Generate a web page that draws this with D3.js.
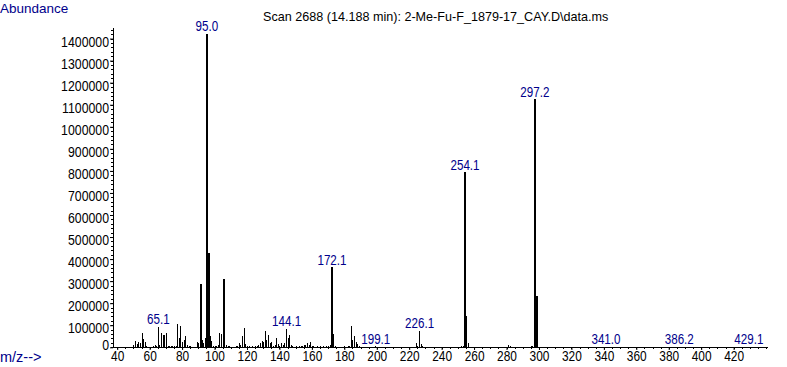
<!DOCTYPE html>
<html><head><meta charset="utf-8">
<script src="https://cdn.jsdelivr.net/npm/d3@7"></script>
<style>
html,body{margin:0;padding:0;background:#fff;}
svg{display:block;font-family:"Liberation Sans",Arial,sans-serif;}
</style></head>
<body>
<svg id="c" width="787" height="367"></svg>
<script>
const title = "Scan 2688 (14.188 min): 2-Me-Fu-F_1879-17_CAY.D\\data.ms";
const yTitle = "Abundance";
const xTitle = "m/z-->";
const mz = [50,51,52,53,54,55,56,57,58,60,62,63,64,65,66,67,68,69,70,71,72,73,74,75,76,77,78,79,80,81,82,83,84,85,87,89,90,91,92,93,94,95,96,97,98,99,100,101,102,103,104,105,106,107,108,109,110,113,114,115,116,117,118,119,120,121,122,123,124,125,126,127,128,129,130,131,132,133,134,135,136,137,138,139,140,141,142,143,144,145,146,147,148,150,152,153,154,155,156,157,158,159,160,161,163,165,167,169,170,171,172,173,174,178,180,182,183,184,185,186,187,188,189,191,195,197,199,203,207,210,213,222,224,225,226,227,228,236,241,252,253,254,255,256,257,269,281,282,283,293,295,296,297,298,299,300,341,386,387,429];
const abundance = [12000,30000,15000,22000,20000,65000,38000,22000,5000,3000,5000,12000,4000,93000,10000,67000,58000,55000,64000,8000,4000,6000,8000,6000,5000,106000,41000,96000,26000,33000,52000,10000,8000,4000,3000,23000,18000,287000,33000,20000,41000,1421000,429000,49000,30000,8000,5000,6000,10000,67000,61000,310000,67000,12000,8000,5000,3000,4000,5000,18000,12000,52000,86000,15000,8000,4000,3000,5000,3000,4000,6000,12000,20000,30000,22000,72000,35000,58000,18000,25000,8000,10000,42000,15000,8000,20000,10000,18000,83000,42000,56000,12000,8000,4000,5000,8000,6000,12000,10000,18000,12000,26000,8000,5000,4000,5000,4000,5000,8000,10000,362000,61000,8000,3000,4000,8000,5000,96000,33000,51000,23000,16000,5000,3000,2000,3000,4000,2000,3000,3000,2000,3000,21000,5000,74000,15000,4000,2000,2000,4000,8000,794000,142000,18000,3000,2000,9000,6000,3000,3000,5000,6000,1126000,234000,29000,3000,2000,3000,2000,2000];
const peakLabels = ["65.1","95.0","144.1","172.1","199.1","226.1","254.1","297.2","341.0","386.2","429.1"];
const xTicks = [40,60,80,100,120,140,160,180,200,220,240,260,280,300,320,340,360,380,400,420];
const yTicks = [0,100000,200000,300000,400000,500000,600000,700000,800000,900000,1000000,1100000,1200000,1300000,1400000];

const svg = d3.select("#c");
const x = d3.scaleLinear().domain([37.4, 441.2]).range([113, 768]);
const y = d3.scaleLinear().domain([0, 1448000]).range([347.3, 28]);
const blue = "#00008b";
const base = 347;

// condense text horizontally (the reference uses a narrow bitmap-like font)
function narrow(sel, k) {
  sel.each(function(){
    const w = this.getComputedTextLength();
    d3.select(this).attr("textLength", w * k).attr("lengthAdjust","spacingAndGlyphs");
  });
}

svg.append("text").attr("x",0).attr("y",13).attr("font-size",13.5).attr("fill",blue).text(yTitle);
svg.append("text").attr("x",0).attr("y",362).attr("font-size",14.5).attr("fill",blue).text(xTitle);
svg.append("text").attr("x",263).attr("y",21).attr("font-size",12.6).attr("fill","#000").text(title);

// y axis
const gy = svg.append("g").attr("transform","translate(113,0)")
  .call(d3.axisLeft(y).tickValues(yTicks).tickSize(3).tickFormat(d3.format("d")));
gy.attr("font-family",null).attr("font-size",null);
gy.select(".domain").attr("stroke","#000").attr("d","M0.5,28V"+(base+0.5));
gy.selectAll(".tick line").attr("stroke","#000");
gy.selectAll(".tick text").attr("font-size",15).attr("fill","#000").attr("x",-4)
  .attr("dy", d => d === 0 ? "0.15em" : "0.5em");
narrow(gy.selectAll(".tick text"), 0.82);
const yMinor = d3.range(0, 1448000, 20000);
gy.append("g").selectAll("line").data(yMinor).join("line")
  .attr("x1",-2).attr("x2",0.5).attr("y1",d=>Math.round(y(d))+0.5).attr("y2",d=>Math.round(y(d))+0.5).attr("stroke","#000");

// x axis
const gx = svg.append("g").attr("transform","translate(0,"+base+")")
  .call(d3.axisBottom(x).tickValues(xTicks).tickSize(3).tickFormat(d3.format("d")));
gx.attr("font-family",null).attr("font-size",null);
gx.select(".domain").attr("stroke","#000").attr("d","M113,0.5H"+x(x.domain()[1]));
gx.selectAll(".tick line").attr("stroke","#000");
gx.selectAll(".tick text").attr("font-size",14.5).attr("fill","#000").attr("y",4);
narrow(gx.selectAll(".tick text"), 0.82);
const xMinor = d3.range(40, 441, 5);
gx.append("g").selectAll("line").data(xMinor).join("line")
  .attr("x1",d=>Math.round(x(d))+0.5).attr("x2",d=>Math.round(x(d))+0.5).attr("y1",0).attr("y2",2).attr("stroke","#000");

// bars
svg.append("g").selectAll("rect").data(mz).join("rect")
  .attr("x", d=>Math.round(x(d)))
  .attr("width", (d,i)=> abundance[i] > 200000 ? 2 : 1)
  .attr("y", (d,i)=>Math.round(y(abundance[i])))
  .attr("height", (d,i)=>Math.max(0, base - Math.round(y(abundance[i]))))
  .attr("fill","#000").attr("shape-rendering","crispEdges");

// peak labels
const pl = svg.append("g").selectAll("text").data(peakLabels).join("text")
  .attr("x", d=>x(+d)+0.5)
  .attr("y", d=>{ const i = mz.indexOf(Math.round(+d)); return y(abundance[i]) - 2.5; })
  .attr("text-anchor","middle").attr("font-size",14).attr("fill",blue).text(d=>d);
narrow(pl, 0.83);
</script>
</body></html>
